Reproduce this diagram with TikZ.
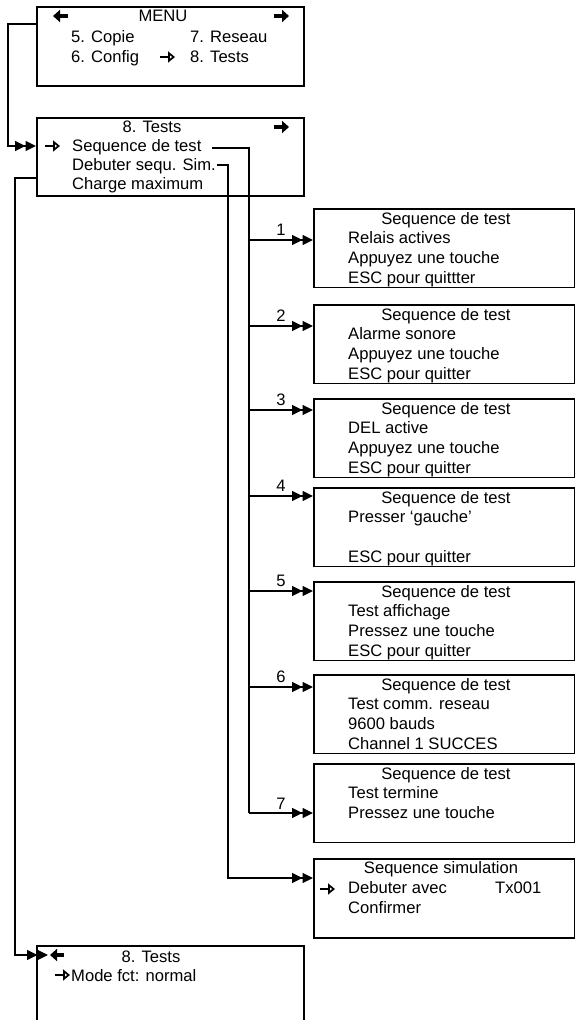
\documentclass[tikz,border=0pt]{standalone}
\usepackage{fontspec}
\setmainfont{Liberation Sans}
\usetikzlibrary{arrows.meta}
\begin{document}
\begin{tikzpicture}[x=1pt,y=-1pt,
  font=\fontsize{16.6pt}{19.8pt}\selectfont,
  box/.style={draw, line width=1.8pt, rectangle, anchor=north west, inner sep=0pt, minimum width=#1},
  txt/.style={anchor=base west, inner sep=0pt},
  ttl/.style={anchor=base, inner sep=0pt},
  conn/.style={line width=1.4pt},
  dbl/.style={-{Triangle[length=10.5pt,width=10pt]Triangle[length=10.5pt,width=10pt]}},
  boldarr/.style={line width=3.2pt, -{Triangle[length=7pt,width=12pt]}},
  selarr/.style={line width=1.8pt, -{Triangle[open,length=7pt,width=11pt,line width=1.8pt]}}
]
\useasboundingbox (0,0) rectangle (575,1020);

% ---------- MENU box ----------
\node[box=267pt, minimum height=79pt] (menu) at (36,6) {};
\draw[boldarr] (68,16) -- (53,16);
\draw[boldarr] (274,16) -- (289,16);
\node[ttl] (menuT) at (163,21) {MENU};
\node[txt] (m5) at (71,42) {5. Copie};
\node[txt] (m7) at (190,42) {7. Reseau};
\node[txt] (m6) at (71,62) {6. Config};
\draw[selarr] (160,57) -- (175,57);
\node[txt] (m8) at (190,62) {8. Tests};

% ---------- 8. Tests box ----------
\node[box=267pt, minimum height=78pt] (tests) at (36,117) {};
\node[ttl] (testsT) at (152,132) {8. Tests};
\draw[boldarr] (274,127) -- (289,127);
\draw[selarr] (45,146) -- (60,146);
\node[txt] (seq) at (72,151) {Sequence de test};
\node[txt] (deb) at (72,170) {Debuter sequ. Sim.};
\node[txt] (chg) at (72,189.5) {Charge maximum};

% ---------- test boxes ----------
\foreach \i/\top/\by/\ly/\la/\lb/\lc in {
  1/208/240/235/{Relais actives}/{Appuyez une touche}/{ESC pour quittter},
  2/304/326/321/{Alarme sonore}/{Appuyez une touche}/{ESC pour quitter},
  3/398/410/405/{DEL active}/{Appuyez une touche}/{ESC pour quitter},
  4/487/496/491/{Presser ‘gauche’}/{}/{ESC pour quitter},
  5/581/591/586/{Test affichage}/{Pressez une touche}/{ESC pour quitter},
  6/674/687/682/{Test comm. reseau}/{9600 bauds}/{Channel 1 SUCCES},
  7/763/813/809/{Test termine}/{Pressez une touche}/{}}{
  \node[box=261pt, minimum height=78.5pt] (b\i) at (313,\top) {};
  \node[ttl] (b\i t) at (446,\top+16) {Sequence de test};
  \node[txt] (b\i a) at (348,\top+35.5) {\la};
  \node[txt] (b\i b) at (348,\top+55.5) {\lb};
  \node[txt] (b\i c) at (348,\top+75.3) {\lc};
  \coordinate (tr\i) at (249,\by);
  \node[ttl] (n\i) at (281,\ly) {\i};
}

% ---------- simulation box ----------
\node[box=261pt, minimum height=79pt] (sim) at (313,858) {};
\node[ttl] (simT) at (441,873.5) {Sequence simulation};
\draw[selarr] (320,889) -- (335,889);
\node[txt] (simA) at (348,893) {Debuter avec};
\node[txt] (simX) at (495,893) {Tx001};
\node[txt] (simB) at (348,913) {Confirmer};

% ---------- bottom 8. Tests box ----------
\node[box=267pt, minimum height=90pt] (bot) at (36,945) {};
\draw[boldarr] (64,955) -- (50,955);
\node[ttl] (botT) at (151,962) {8. Tests};
\draw[selarr] (55,975) -- (70,975);
\node[txt] (botA) at (71,981.5) {Mode fct: normal};

% ---------- connectors ----------
\coordinate (m0) at (36,24);
\coordinate (m1) at (8,146);
\draw[conn,dbl] (m0) -| (m1) -- (tests.west |- m1);

\coordinate (l0) at (36,178);
\coordinate (l1) at (15,955);
\draw[conn,dbl,shorten >=-12pt] (l0) -| (l1) -- (bot.west |- l1);

\coordinate (s0) at (212,148);
\draw[conn] (s0) -| (tr7);
\foreach \i in {1,...,7}{
  \draw[conn,dbl] (tr\i) -- (b\i.west |- tr\i);
}

\coordinate (d0) at (217,165);
\coordinate (d1) at (228,878);
\draw[conn,dbl] (d0) -| (d1) -- (sim.west |- d1);

\end{tikzpicture}
\end{document}
